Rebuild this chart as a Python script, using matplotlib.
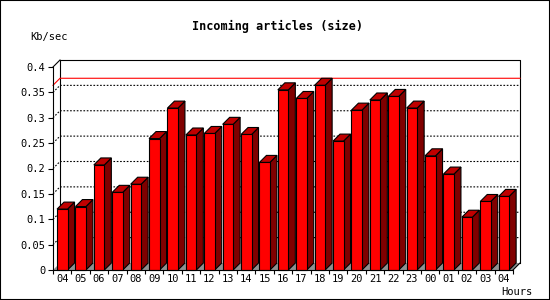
import numpy as np
import matplotlib
matplotlib.use("Agg")
import matplotlib.pyplot as plt
from matplotlib.patches import Polygon, Rectangle

# Data.
hours  = ["04", "05", "06", "07", "08", "09", "10", "11", "12", "13", "14", "15", "16",
          "17", "18", "19", "20", "21", "22", "23", "00", "01", "02", "03", "04"]
values = [0.120, 0.125, 0.207, 0.153, 0.169, 0.259, 0.319, 0.266, 0.269, 0.287, 0.267, 0.212, 0.355,
          0.338, 0.364, 0.254, 0.315, 0.335, 0.342, 0.319, 0.225, 0.189, 0.104, 0.135, 0.145]
yticks = [0, 0.05, 0.1, 0.15, 0.2, 0.25, 0.3, 0.35, 0.4]
title  = "Incoming articles (size)"
ylabel = "Kb/sec"
xlabel = "Hours"

plt.rcParams['font.family'] = ['DejaVu Sans Mono', 'DejaVu Sans']

W, H = 550, 300
fig = plt.figure(figsize=(W/100, H/100), dpi=100)
fig.patch.set_facecolor("white")

# Front plane of the plot, in pixels from the top-left corner.
px_left, px_right, px_top, px_bottom = 53, 513, 67, 270
ax = fig.add_axes([px_left/W, 1 - px_bottom/H, (px_right - px_left)/W, (px_bottom - px_top)/H])
xmin, xmax = -0.5, len(values) - 0.5
ymin, ymax = 0.0, 0.4
ax.set_xlim(xmin, xmax)
ax.set_ylim(ymin, ymax)
ax.set_facecolor("none")

# 3D depth of 7 pixels, in data units.
dx = 7 * (xmax - xmin) / (px_right - px_left)
dy = 7 * (ymax - ymin) / (px_bottom - px_top)

lw = 0.8
dots = (0, (1.5, 1.5))

# Floor.
ax.add_patch(Polygon([(xmin, 0), (xmax, 0), (xmax + dx, dy), (xmin + dx, dy)],
                     closed=True, facecolor="#909090", edgecolor="none", zorder=1, clip_on=False))

# Grid lines on the back plane.
for t in yticks[1:-1]:
  ax.plot([xmin, xmin + dx, xmax + dx], [t, t + dy, t + dy], color="black", lw=lw,
          linestyle=dots, zorder=2, clip_on=False)

# Back frame.
ax.plot([xmin + dx, xmin + dx, xmax + dx, xmax + dx], [dy, ymax + dy, ymax + dy, dy],
        color="black", lw=lw, zorder=2, clip_on=False)

# Max line.
vmax = max(values)
ax.plot([xmin, xmin + dx, xmax + dx], [vmax, vmax + dy, vmax + dy], color="red", lw=lw,
        zorder=3, clip_on=False)

# Bars.
bw = 0.57
for i, v in enumerate(values):
  x0 = i - 0.28
  x1 = x0 + bw
  side = Polygon([(x1, 0), (x1 + dx, dy), (x1 + dx, v + dy), (x1, v)], closed=True,
                 facecolor="#800000", edgecolor="black", lw=lw, zorder=4, clip_on=False)
  top = Polygon([(x0, v), (x0 + dx, v + dy), (x1 + dx, v + dy), (x1, v)], closed=True,
                facecolor="#c00000", edgecolor="black", lw=lw, zorder=4, clip_on=False)
  ax.add_patch(side)
  ax.add_patch(top)
ax.bar(np.arange(len(values)) - 0.28, values, width=bw, align="edge", color="#ff0000",
       edgecolor="black", linewidth=lw, zorder=5, clip_on=False)

# Front axes with their 3D corners.
for s in ["top", "right"]:
  ax.spines[s].set_visible(False)
for s in ["left", "bottom"]:
  ax.spines[s].set_linewidth(lw)
  ax.spines[s].set_zorder(6)
ax.plot([xmin, xmin + dx], [ymax, ymax + dy], color="black", lw=lw, zorder=6, clip_on=False)
ax.plot([xmax, xmax + dx], [0, dy], color="black", lw=lw, zorder=6, clip_on=False)

# Ticks.
ax.set_yticks(yticks)
ax.set_yticklabels([("%g" % t) for t in yticks])
ax.tick_params(axis="y", direction="out", length=3.5, width=lw, pad=2, labelsize=7.5)
ax.set_xticks(np.arange(xmin, xmax + 0.01, 1))
ax.set_xticklabels([])
ax.set_xticks(np.arange(len(values)), minor=True)
ax.set_xticklabels(hours, minor=True)
ax.tick_params(axis="x", which="major", direction="out", length=3, width=lw)
ax.tick_params(axis="x", which="minor", length=0, pad=3, labelsize=7.5)

# Texts.
fig.text(277/W, 1 - 26/H, title, ha="center", va="center", fontsize=8.5, fontweight="bold")
fig.text(30/W, 1 - 37/H, ylabel, ha="left", va="center", fontsize=7.5)
fig.text(533/W, 1 - 292/H, xlabel, ha="right", va="center", fontsize=7.5)

# Outer border.
fig.patches.append(Rectangle((0, 0), 1, 1, transform=fig.transFigure, fill=False,
                             edgecolor="black", lw=1.5))

fig.savefig("out.png", dpi=100)
